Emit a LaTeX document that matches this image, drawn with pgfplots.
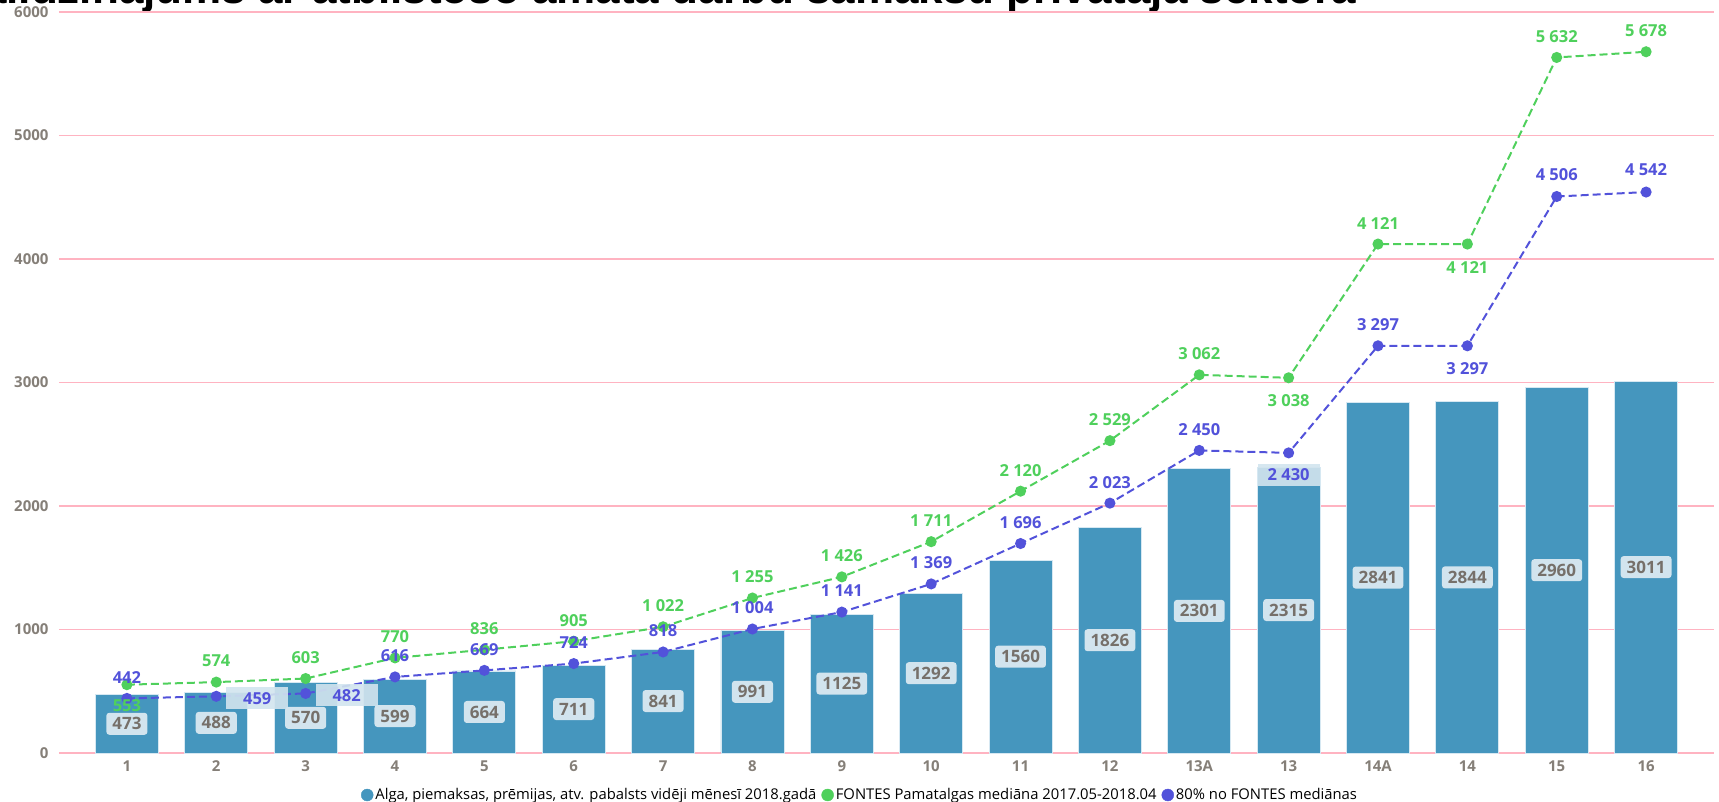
\documentclass[border=0pt]{standalone}
\usepackage{pgfplots}
\pgfplotsset{compat=1.18}
\usepackage{pgfplotstable}
\usepackage{fontspec}
\setmainfont{Open Sans}
\newfontfamily\titlefont{Liberation Sans}

\definecolor{barblue}{HTML}{4596BE}
\definecolor{barborder}{HTML}{D6E8F2}
\definecolor{labelbox}{HTML}{D2E4EE}
\definecolor{labelgray}{HTML}{76706A}
\definecolor{tickgray}{HTML}{857F78}
\definecolor{gridpink}{HTML}{FFB3C1}
\definecolor{lgreen}{HTML}{4FD05C}
\definecolor{lblue}{HTML}{5252DA}

\pgfplotstableread{
x bar
0 473
1 488
2 570
3 599
4 664
5 711
6 841
7 991
8 1125
9 1292
10 1560
11 1826
12 2301
13 2315
14 2841
15 2844
16 2960
17 3011
}\bars

\pgfplotstableread{
x y dx dy
0 553 0 -21
1 574 0 21
2 603 0 21
3 770 0 21
4 836 0 21
5 905 0 21
6 1022 0 21
7 1255 0 21
8 1426 0 21
9 1711 0 21
10 2120 0 21
11 2529 0 21
12 3062 0 21
13 3038 0 -23
14 4121 0 21
15 4121 0 -23
16 5632 0 21
17 5678 0 21
}\green

\pgfplotstableread{
x y
0 442
1 459
2 482
3 616
4 669
5 724
6 818
7 1004
8 1141
9 1369
10 1696
11 2023
12 2450
13 2430
14 3297
15 3297
16 4506
17 4542
}\blue

\pgfplotstableread{
x y dx dy
0 442 0 21
3 616 0 21
4 669 0 21
5 724 0 21
6 818 0 21
7 1004 0 21
8 1141 0 21
9 1369 0 21
10 1696 0 21
11 2023 0 21
12 2450 0 21
15 3297 0 -23
14 3297 0 21
16 4506 0 22
17 4542 0 22
}\bluelab

\pgfplotstableread{
x y dx dy
1 459 41 -2
2 482 41 -2
13 2430 0 -22
}\blueboxed

\begin{document}
\begin{tikzpicture}[x=1pt,y=1pt]
\node[anchor=base east, font=\titlefont\bfseries\fontsize{44}{50}\selectfont] at (1360pt,798pt)
  {Salīdzinājums ar atbilstošo amata darbu samaksu privātajā sektorā};
\begin{axis}[
  at={(59pt,49pt)}, anchor=south west,
  scale only axis, width=1655pt, height=741pt,
  xmin=-0.76, xmax=17.76, ymin=0, ymax=6000,
  xtick={0,...,17},
  xticklabels={1,2,3,4,5,6,7,8,9,10,11,12,13A,13,14A,14,15,16},
  ytick={0,1000,...,6000},
  ymajorgrids,
  grid style={draw=gridpink, line width=1.6pt},
  axis line style={draw=none},
  major tick length=0pt,
  /pgf/number format/assume math mode=true,
  tick label style={font=\fontsize{15}{17}\selectfont\bfseries, text=tickgray},
  yticklabel style={/pgf/number format/1000 sep={}, xshift=-7pt},
  xticklabel style={yshift=-4pt},
  clip=false,
  legend style={at={(0.484,-0.0567)}, anchor=center, legend columns=3,
    draw=none, fill=none, font=\fontsize{14.8}{16}\selectfont,
    /tikz/every even column/.append style={column sep=3pt},
    inner sep=0pt},
  legend cell align=left,
]
% bars
\addplot[ybar, bar width=63pt, fill=barblue, draw=barborder, line width=0.8pt, forget plot]
  table[x=x, y=bar]{\bars};
% bar labels at mid height
\addplot[draw=none, forget plot, nodes near coords, point meta=\thisrow{bar},
  nodes near coords style={anchor=center, fill=labelbox, rounded corners=3pt,
    text=labelgray, font=\fontsize{17}{19}\selectfont\bfseries,
    inner xsep=6pt, inner ysep=0pt, minimum height=22pt,
    /pgf/number format/1000 sep={}, /pgf/number format/assume math mode=true}]
  table[x=x, y expr=\thisrow{bar}/2]{\bars};
% green line
\addplot[lgreen, dashed, dash pattern=on 8pt off 4pt, line width=2pt, mark=*,
  mark size=4.5pt, mark options={solid, fill=lgreen, draw=lgreen}, forget plot]
  table[x=x, y=y]{\green};
% blue line
\addplot[lblue, dashed, dash pattern=on 8pt off 4pt, line width=2pt, mark=*,
  mark size=4.5pt, mark options={solid, fill=lblue, draw=lblue}, forget plot]
  table[x=x, y=y]{\blue};
% green labels
\addplot[draw=none, forget plot, nodes near coords, point meta=y,
  visualization depends on={\thisrow{dx} \as \ddx},
  visualization depends on={\thisrow{dy} \as \ddy},
  nodes near coords style={anchor=center, xshift=\ddx pt, yshift=\ddy pt,
    text=lgreen, font=\fontsize{16.5}{18}\selectfont\bfseries, inner sep=0pt,
    /pgf/number format/1000 sep={\ }, /pgf/number format/assume math mode=true}]
  table[x=x, y=y]{\green};
% blue labels
\addplot[draw=none, forget plot, nodes near coords, point meta=y,
  visualization depends on={\thisrow{dx} \as \ddx},
  visualization depends on={\thisrow{dy} \as \ddy},
  nodes near coords style={anchor=center, xshift=\ddx pt, yshift=\ddy pt,
    text=lblue, font=\fontsize{16.5}{18}\selectfont\bfseries, inner sep=0pt,
    /pgf/number format/1000 sep={\ }, /pgf/number format/assume math mode=true}]
  table[x=x, y=y]{\bluelab};
% boxed blue labels
\addplot[draw=none, forget plot, nodes near coords, point meta=y,
  visualization depends on={\thisrow{dx} \as \ddx},
  visualization depends on={\thisrow{dy} \as \ddy},
  nodes near coords style={anchor=center, xshift=\ddx pt, yshift=\ddy pt,
    text=lblue, font=\fontsize{16.5}{18}\selectfont\bfseries,
    fill=labelbox, fill opacity=0.9, text opacity=1, inner sep=0pt,
    minimum width=62pt, minimum height=22pt,
    /pgf/number format/1000 sep={\ }, /pgf/number format/assume math mode=true}]
  table[x=x, y=y]{\blueboxed};
% legend
\addlegendimage{legend image code/.code={\fill[barblue] (4pt,0pt) circle (6pt);}}
\addlegendentry{Alga, piemaksas, prēmijas, atv. pabalsts vidēji mēnesī 2018.gadā}
\addlegendimage{legend image code/.code={\fill[lgreen] (4pt,0pt) circle (6pt);}}
\addlegendentry{FONTES Pamatalgas mediāna 2017.05-2018.04}
\addlegendimage{legend image code/.code={\fill[lblue] (4pt,0pt) circle (6pt);}}
\addlegendentry{80\% no FONTES mediānas}
\end{axis}
\pgfresetboundingbox
\path[use as bounding box] (0pt,0pt) rectangle (1719pt,802pt);
\end{tikzpicture}
\end{document}
